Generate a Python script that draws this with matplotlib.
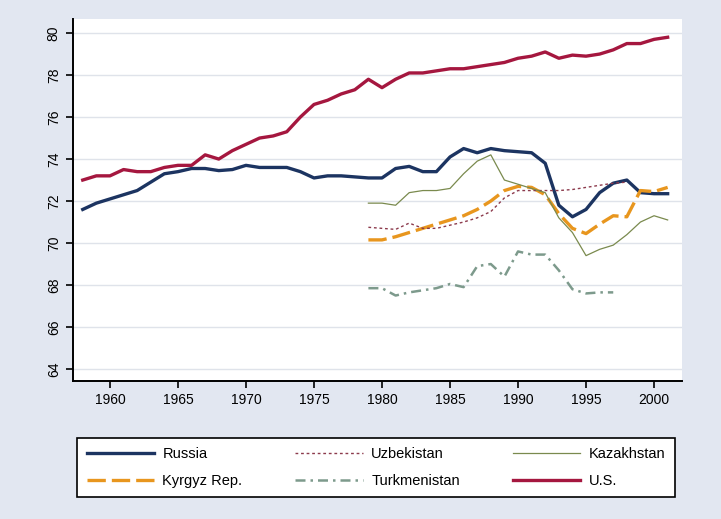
import matplotlib.pyplot as plt

# female life expectancy
years_long = list(range(1958, 2002))
russia = [71.6, 71.9, 72.1, 72.3, 72.5, 72.9, 73.3, 73.4, 73.55, 73.55,
          73.45, 73.5, 73.7, 73.6, 73.6, 73.6, 73.4, 73.1, 73.2, 73.2,
          73.15, 73.1, 73.1, 73.55, 73.65, 73.4, 73.4, 74.1, 74.5, 74.3,
          74.5, 74.4, 74.35, 74.3, 73.8, 71.8, 71.25, 71.6, 72.4, 72.85,
          73.0, 72.4, 72.35, 72.35]
us = [73.0, 73.2, 73.2, 73.5, 73.4, 73.4, 73.6, 73.7, 73.7, 74.2,
      74.0, 74.4, 74.7, 75.0, 75.1, 75.3, 76.0, 76.6, 76.8, 77.1,
      77.3, 77.8, 77.4, 77.8, 78.1, 78.1, 78.2, 78.3, 78.3, 78.4,
      78.5, 78.6, 78.8, 78.9, 79.1, 78.8, 78.95, 78.9, 79.0, 79.2,
      79.5, 79.5, 79.7, 79.8]

years_kz = list(range(1979, 2002))
kazakhstan = [71.9, 71.9, 71.8, 72.4, 72.5, 72.5, 72.6, 73.3, 73.9, 74.2,
              73.0, 72.8, 72.6, 72.4, 71.2, 70.5, 69.4, 69.7, 69.9, 70.4,
              71.0, 71.3, 71.1]
kyrgyz = [70.15, 70.15, 70.3, 70.5, 70.7, 70.9, 71.1, 71.3, 71.6, 72.0,
          72.5, 72.7, 72.65, 72.3, 71.4, 70.7, 70.45, 70.9, 71.3, 71.25,
          72.5, 72.45, 72.65]

years_uz = list(range(1979, 1999))
uzbekistan = [70.75, 70.7, 70.65, 70.95, 70.7, 70.7, 70.85, 71.0, 71.2, 71.5,
              72.15, 72.5, 72.5, 72.5, 72.5, 72.55, 72.65, 72.75, 72.85, 72.9]

years_tm = list(range(1979, 1998))
turkmenistan = [67.85, 67.85, 67.5, 67.65, 67.75, 67.85, 68.05, 67.9, 68.9, 69.0,
                68.4, 69.6, 69.45, 69.45, 68.7, 67.8, 67.6, 67.65, 67.65]

plt.rcParams['font.family'] = ['Liberation Sans', 'DejaVu Sans']

fig = plt.figure(figsize=(7.21, 5.19), dpi=100, facecolor='#e2e7f1')
ax = fig.add_axes([0.1008, 0.2659, 0.8452, 0.6975])
ax.set_facecolor('white')

h_ru, = ax.plot(years_long, russia, color='#1c3461', lw=2.4, label='Russia')
h_kg, = ax.plot(years_kz, kyrgyz, color='#e8961e', lw=2.4, dashes=(5.5, 1.8), label='Kyrgyz Rep.')
h_uz, = ax.plot(years_uz, uzbekistan, color='#8c3a4c', lw=1.0, dashes=(2, 2), label='Uzbekistan')
h_tm, = ax.plot(years_tm, turkmenistan, color='#7d9a8c', lw=1.8, dashes=(4, 2, 1, 2), label='Turkmenistan')
h_kz, = ax.plot(years_kz, kazakhstan, color='#7a8a4e', lw=0.9, label='Kazakhstan')
h_us, = ax.plot(years_long, us, color='#a5173f', lw=2.4, label='U.S.')

ax.set_xlim(1957.26, 2002.06)
ax.set_ylim(63.43, 80.67)
ax.set_xticks(range(1960, 2001, 5))
ax.set_yticks(range(64, 81, 2))
for lab in ax.get_yticklabels():
    lab.set_rotation(90)
    lab.set_va('center')
ax.tick_params(labelsize=10, length=5, width=1.2, color='black')
ax.grid(axis='y', color='#dfe3ea', lw=1.0)
ax.set_axisbelow(True)
for s in ['top', 'right']:
    ax.spines[s].set_visible(False)
for s in ['left', 'bottom']:
    ax.spines[s].set_linewidth(1.4)

leg = fig.legend([h_ru, h_kg, h_uz, h_tm, h_kz, h_us],
                 ['Russia', 'Kyrgyz Rep.', 'Uzbekistan', 'Turkmenistan', 'Kazakhstan', 'U.S.'],
                 ncol=3, loc='lower left', mode='expand',
                 bbox_to_anchor=(0.107, 0.042, 0.829, 0.114),
                 fancybox=False, edgecolor='black', framealpha=1,
                 fontsize=10.5, handlelength=4.6, handletextpad=0.6,
                 borderaxespad=0, borderpad=0.65,
                 labelspacing=0.85, columnspacing=1.0)
leg.get_frame().set_linewidth(1.2)

fig.savefig('out.png', dpi=100, facecolor=fig.get_facecolor())
